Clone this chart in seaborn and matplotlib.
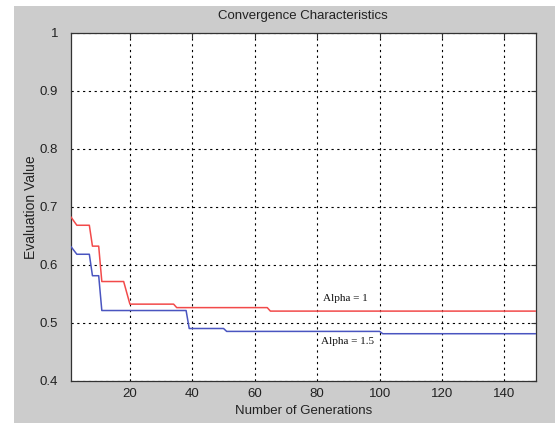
import matplotlib
matplotlib.use("Agg")
import matplotlib.pyplot as plt
import seaborn as sns
import pandas as pd
from matplotlib.patches import Rectangle

# Data (breakpoints where the best value changes)
gen_alpha1 = [1, 3, 7, 8, 10, 11, 18, 20, 34, 35, 64, 65, 150]
val_alpha1 = [0.683, 0.668, 0.668, 0.632, 0.632, 0.571, 0.571, 0.532, 0.532, 0.526, 0.526, 0.520, 0.520]
gen_alpha15 = [1, 3, 7, 8, 10, 11, 38, 39, 50, 51, 100, 101, 150]
val_alpha15 = [0.632, 0.618, 0.618, 0.581, 0.581, 0.521, 0.521, 0.490, 0.490, 0.485, 0.485, 0.481, 0.481]
x_ticks = [20, 40, 60, 80, 100, 120, 140]
y_ticks = [0.4, 0.5, 0.6, 0.7, 0.8, 0.9, 1.0]
y_ticklabels = ["0.4", "0.5", "0.6", "0.7", "0.8", "0.9", "1"]

sns.set_style("white")
plt.rcParams['font.family'] = ['Liberation Sans', 'DejaVu Sans']

fig = plt.figure(figsize=(5.55, 4.23), dpi=100)
fig.patch.set_facecolor("white")
fig.patches.append(Rectangle((14 / 555, 0), 1 - 14 / 555, 417 / 423,
                             transform=fig.transFigure, facecolor="#cccccc",
                             edgecolor="none", zorder=-10))

ax = fig.add_axes([70.6 / 555, 1 - 380.7 / 423, (535.7 - 70.6) / 555, (380.7 - 32.7) / 423])
ax.set_facecolor("white")

df1 = pd.DataFrame({"gen": gen_alpha1, "val": val_alpha1})
df2 = pd.DataFrame({"gen": gen_alpha15, "val": val_alpha15})
sns.lineplot(data=df1, x="gen", y="val", color="#f24a4a", linewidth=1.1, ax=ax, zorder=3)
sns.lineplot(data=df2, x="gen", y="val", color="#4a55c0", linewidth=1.1, ax=ax, zorder=3)

ax.set_xlim(1, 150)
ax.set_ylim(0.4, 1.0)
ax.set_xticks(x_ticks)
ax.set_xticklabels([str(t) for t in x_ticks])
ax.set_yticks(y_ticks)
ax.set_yticklabels(y_ticklabels)

ax.grid(True, color="black", linestyle=(0, (2.0, 3.2)), linewidth=0.8, zorder=1)
for s in ax.spines.values():
    s.set_color("#333333")
    s.set_linewidth(0.9)
ax.tick_params(direction="in", top=True, right=True, length=3.5, width=0.8,
               color="#333333", labelsize=9.5, labelcolor="#222222")
ax.tick_params(axis="y", pad=9)
ax.tick_params(axis="x", pad=5)

ax.set_title("Convergence Characteristics", fontsize=9.5, color="#222222", pad=10)
ax.set_xlabel("Number of Generations", fontsize=9.5, color="#222222", labelpad=4)
ax.set_ylabel("Evaluation Value", fontsize=10, color="#222222", labelpad=1)

ax.text(82, 0.541, "Alpha = 1", fontsize=8, family=["Liberation Serif", "DejaVu Serif"],
        va="center", ha="left", color="#111111")
ax.text(81.3, 0.467, "Alpha = 1.5", fontsize=8, family=["Liberation Serif", "DejaVu Serif"],
        va="center", ha="left", color="#111111")

fig.savefig("out.png", dpi=100)
